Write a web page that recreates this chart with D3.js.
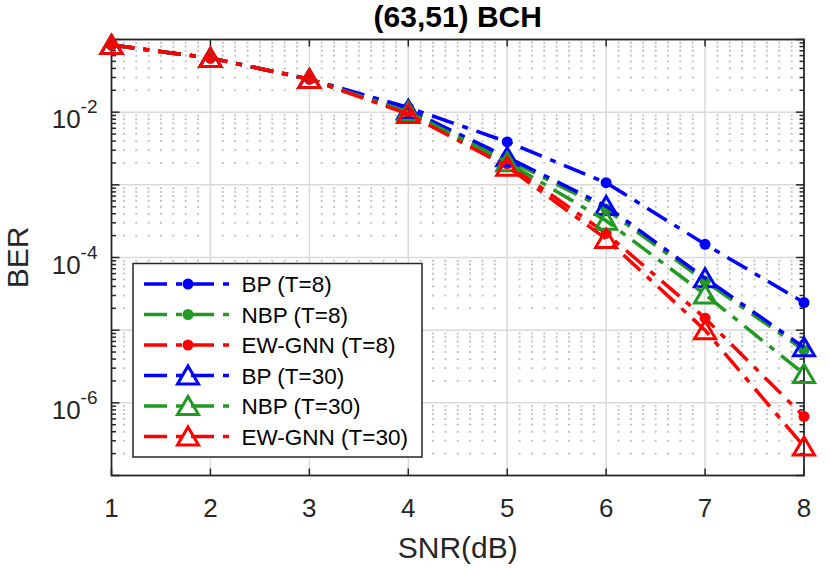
<!DOCTYPE html>
<html>
<head>
<meta charset="utf-8">
<title>(63,51) BCH</title>
<script src="https://d3js.org/d3.v7.min.js"></script>
<style>
  body { margin: 0; background: #ffffff; }
  text { font-family: "Liberation Sans", Arial, sans-serif; fill: #262626; }
  text.title { font-size: 30px; font-weight: bold; fill: #000000; }
  text.axisLabel { font-size: 30px; }
  text.tickLabel { font-size: 26px; }
  text.legendLabel { font-size: 22.5px; fill: #000000; }
  .grid line { stroke: #d9d9d9; stroke-width: 1.5; }
  .minorDot { fill: #c4c4c4; }
  .frame { fill: none; stroke: #262626; stroke-width: 1.8; }
  .tick { stroke: #262626; stroke-width: 1.5; }
</style>
</head>
<body>
<script>
// ---- data ----
const snr = [1, 2, 3, 4, 5, 6, 7, 8];
const bpT8   = [0.084, 0.0555, 0.0285, 0.0116, 0.0039,  1.07e-3, 1.52e-4, 2.4e-5];
const nbpT8  = [0.084, 0.0555, 0.0285, 0.0105, 0.00225, 4.6e-4,  4.7e-5,  5.3e-6];
const ewT8   = [0.084, 0.0555, 0.0285, 0.0098, 0.00195, 2.15e-4, 1.46e-5, 6.5e-7];
const bpT30  = [0.084, 0.0555, 0.0285, 0.0108, 0.0024,  5.1e-4,  5.2e-5,  5.8e-6];
const nbpT30 = [0.084, 0.0555, 0.0285, 0.0101, 0.00205, 3.2e-4,  3.1e-5,  2.5e-6];
const ewT30  = [0.084, 0.0555, 0.0285, 0.0094, 0.00178, 1.8e-4,  1.0e-5,  2.5e-7];

const seriesNames = ['BP (T=8)', 'NBP (T=8)', 'EW-GNN (T=8)', 'BP (T=30)', 'NBP (T=30)', 'EW-GNN (T=30)'];
const xTicks = [1, 2, 3, 4, 5, 6, 7, 8];
const yTicks = [1e-6, 1e-4, 1e-2];
const yTickExp = ['-6', '-4', '-2'];

const width = 830, height = 568;
const margin = {top: 39.5, right: 26, bottom: 92.5, left: 111.5};

const blue = '#0000ff', green = '#229922', red = '#ff0000';
const series = [
  {name: seriesNames[0], values: bpT8,   color: blue,  marker: 'dot'},
  {name: seriesNames[1], values: nbpT8,  color: green, marker: 'dot'},
  {name: seriesNames[2], values: ewT8,   color: red,   marker: 'dot'},
  {name: seriesNames[3], values: bpT30,  color: blue,  marker: 'tri'},
  {name: seriesNames[4], values: nbpT30, color: green, marker: 'tri'},
  {name: seriesNames[5], values: ewT30,  color: red,   marker: 'tri'}
];

const svg = d3.select('body').append('svg')
  .attr('width', width)
  .attr('height', height);

const x = d3.scaleLinear().domain([1, 8]).range([margin.left, width - margin.right]);
const y = d3.scaleLog().domain([1e-7, 1e-1]).range([height - margin.bottom, margin.top]);

const x0 = x.range()[0], x1 = x.range()[1];
const y0 = y.range()[0], y1 = y.range()[1];

// minor values
const xMinor = d3.range(1, 8, 0.125).filter(v => Math.abs(v - Math.round(v)) > 1e-6);
const yMinor = [];
for (let e = -7; e <= -2; e++) for (let k = 2; k <= 9; k++) yMinor.push(k * Math.pow(10, e));
const yMajor = d3.range(-7, 0).map(e => Math.pow(10, e));

// minor grid (dotted, shows as dots at crossings)
svg.append('g')
  .selectAll('rect')
  .data(d3.cross(xMinor, yMinor))
  .join('rect')
  .attr('class', 'minorDot')
  .attr('x', d => x(d[0]) - 1)
  .attr('y', d => y(d[1]) - 1)
  .attr('width', 2)
  .attr('height', 2);

// major grid
const grid = svg.append('g').attr('class', 'grid');
grid.selectAll('line.gx')
  .data(xTicks.slice(1, -1))
  .join('line')
  .attr('class', 'gx')
  .attr('x1', d => x(d)).attr('x2', d => x(d))
  .attr('y1', y0).attr('y2', y1);
grid.selectAll('line.gy')
  .data(yMajor.slice(1))
  .join('line')
  .attr('class', 'gy')
  .attr('x1', x0).attr('x2', x1)
  .attr('y1', d => y(d)).attr('y2', d => y(d));

// ticks on all four sides
const ticks = svg.append('g');
xTicks.forEach(v => {
  ticks.append('line').attr('class', 'tick')
    .attr('x1', x(v)).attr('x2', x(v)).attr('y1', y0).attr('y2', y0 - 7);
  ticks.append('line').attr('class', 'tick')
    .attr('x1', x(v)).attr('x2', x(v)).attr('y1', y1).attr('y2', y1 + 7);
});
yMajor.forEach(v => {
  ticks.append('line').attr('class', 'tick')
    .attr('x1', x0).attr('x2', x0 + 8).attr('y1', y(v)).attr('y2', y(v));
  ticks.append('line').attr('class', 'tick')
    .attr('x1', x1).attr('x2', x1 - 8).attr('y1', y(v)).attr('y2', y(v));
});
yMinor.forEach(v => {
  ticks.append('line').attr('class', 'tick')
    .attr('x1', x0).attr('x2', x0 + 4.5).attr('y1', y(v)).attr('y2', y(v));
  ticks.append('line').attr('class', 'tick')
    .attr('x1', x1).attr('x2', x1 - 4.5).attr('y1', y(v)).attr('y2', y(v));
});

svg.append('rect')
  .attr('class', 'frame')
  .attr('x', x0).attr('y', y1)
  .attr('width', x1 - x0).attr('height', y0 - y1);

// tick labels
svg.append('g')
  .selectAll('text')
  .data(xTicks)
  .join('text')
  .attr('class', 'tickLabel')
  .attr('x', d => x(d))
  .attr('y', y0 + 41.5)
  .style('text-anchor', 'middle')
  .text(d => d);

const yLab = svg.append('g')
  .selectAll('text')
  .data(yTicks)
  .join('text')
  .attr('class', 'tickLabel')
  .attr('x', x0 - 14)
  .attr('y', d => y(d) + 16)
  .style('text-anchor', 'end');
yLab.append('tspan').text('10');
yLab.append('tspan')
  .attr('dy', -15)
  .style('font-size', '19px')
  .text((d, i) => yTickExp[i]);

// axis labels and title
svg.append('text')
  .attr('class', 'axisLabel')
  .attr('x', (x0 + x1) / 2)
  .attr('y', 558)
  .style('text-anchor', 'middle')
  .text('SNR(dB)');

svg.append('text')
  .attr('class', 'axisLabel')
  .attr('transform', `translate(28, ${(y0 + y1) / 2}) rotate(-90)`)
  .style('text-anchor', 'middle')
  .text('BER');

svg.append('text')
  .attr('class', 'title')
  .attr('x', (x0 + x1) / 2)
  .attr('y', 26.5)
  .style('text-anchor', 'middle')
  .text('(63,51) BCH');

// data
const dash = '23,9,6,9';
const triPath = 'M0,-9.5L10.5,8.5L-10.5,8.5Z';
const line = d3.line()
  .x((d, i) => x(snr[i]))
  .y(d => y(d));

function drawMarker(sel, s) {
  if (s.marker === 'dot') {
    sel.append('circle').attr('r', 5.5).attr('fill', s.color);
  } else {
    sel.append('path').attr('d', triPath)
      .attr('fill', 'none')
      .attr('stroke', s.color)
      .attr('stroke-width', 3);
  }
}

series.forEach(s => {
  const g = svg.append('g');
  g.append('path')
    .attr('d', line(s.values))
    .attr('fill', 'none')
    .attr('stroke', s.color)
    .attr('stroke-width', 3.5)
    .attr('stroke-dasharray', dash);
  s.values.forEach((v, i) => {
    const m = g.append('g').attr('transform', `translate(${x(snr[i])},${y(v)})`);
    drawMarker(m, s);
  });
});

// legend
const legend = svg.append('g');
legend.append('rect')
  .attr('x', 133).attr('y', 263.5)
  .attr('width', 289).attr('height', 193.5)
  .attr('fill', '#ffffff')
  .attr('stroke', '#262626')
  .attr('stroke-width', 1.5);

series.forEach((s, i) => {
  const ly = 284 + i * 30.5;
  const row = legend.append('g').attr('transform', `translate(0,${ly})`);
  row.append('line')
    .attr('x1', 144).attr('x2', 229)
    .attr('y1', 0).attr('y2', 0)
    .attr('stroke', s.color)
    .attr('stroke-width', 3.5)
    .attr('stroke-dasharray', dash);
  drawMarker(row.append('g').attr('transform', 'translate(188,0)'), s);
  row.append('text')
    .attr('class', 'legendLabel')
    .attr('x', 241.5)
    .attr('y', 8)
    .text(s.name);
});
</script>
</body>
</html>
